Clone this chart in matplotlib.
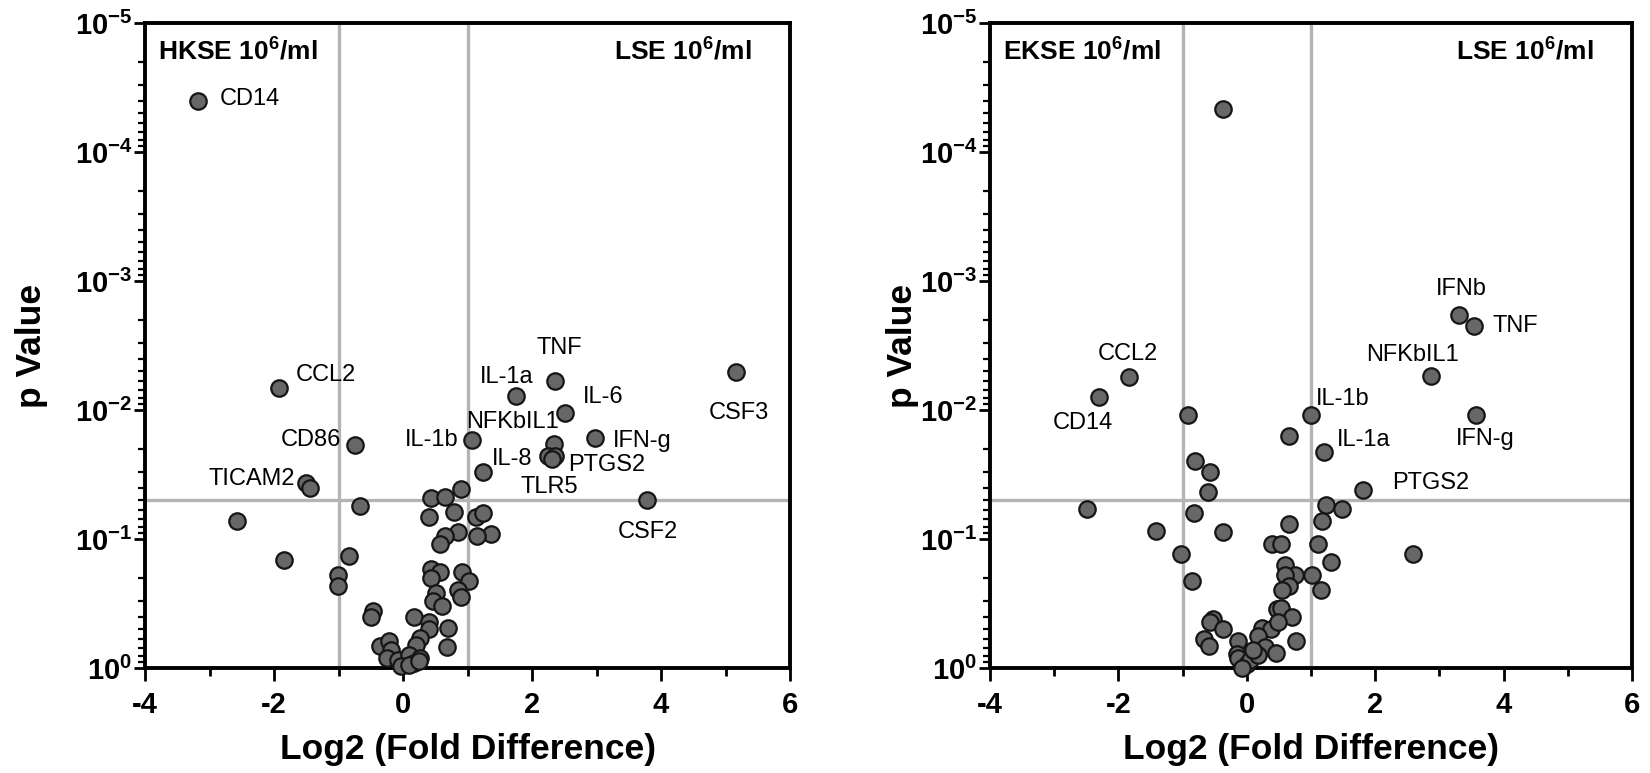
import numpy as np
import matplotlib
matplotlib.use("Agg")
import matplotlib.pyplot as plt
from matplotlib.ticker import FixedLocator, FuncFormatter, LogLocator, NullFormatter, MultipleLocator

plt.rcParams['font.family'] = ['Liberation Sans', 'DejaVu Sans']
plt.rcParams['mathtext.fontset'] = 'custom'
plt.rcParams['mathtext.rm'] = 'Liberation Sans'
plt.rcParams['mathtext.bf'] = 'Liberation Sans:bold'
plt.rcParams['axes.unicode_minus'] = False

# HKSE vs LSE (left panel)
hk_gene = ['CD14', 'CCL2', 'TNF', 'IL-1a', 'CSF3', 'IL-6', 'NFKbIL1', 'IL-1b', 'IFN-g',
           'CD86', 'IL-8', 'PTGS2', 'TLR5', 'TICAM2', '', 'CSF2']
hk_fold = [-3.18, -1.92, 2.35, 1.75, 5.17, 2.51, 2.34, 1.07, 2.97,
           -0.74, 2.25, 2.35, 2.31, -1.50, -1.45, 3.79]
hk_p = [4.0e-5, 6.8e-3, 6.0e-3, 7.8e-3, 5.1e-3, 1.05e-2, 1.84e-2, 1.70e-2, 1.66e-2,
        1.86e-2, 2.29e-2, 2.29e-2, 2.4e-2, 3.7e-2, 4.0e-2, 5.0e-2]
hk_rest_fold = [1.24, 0.90, 0.43, 0.65, -0.67, -2.58, 0.41, 0.79, 1.13, 1.24, 1.37, 1.14,
                0.85, 0.65, 0.58, -0.84, -1.85, -1.01, -1.01, 0.44, 0.58, 0.43, 0.92, 1.03,
                0.86, 0.90, 0.51, 0.47, 0.60, -0.46, -0.49, 0.17, 0.41, 0.41, 0.69, 0.27,
                0.20, 0.68, -0.35, -0.21, -0.18, -0.25, -0.08, 0.10, 0.27, 0.17, -0.03,
                0.10, 0.24]
hk_rest_p = [0.030, 0.041, 0.048, 0.047, 0.055, 0.072, 0.068, 0.062, 0.068, 0.063, 0.091,
             0.095, 0.089, 0.095, 0.11, 0.135, 0.146, 0.19, 0.23, 0.17, 0.18, 0.20, 0.18,
             0.21, 0.25, 0.28, 0.26, 0.30, 0.33, 0.36, 0.40, 0.40, 0.44, 0.50, 0.49, 0.59,
             0.66, 0.69, 0.68, 0.62, 0.72, 0.83, 0.86, 0.79, 0.83, 0.91, 0.97, 0.94, 0.89]

# EKSE vs LSE (right panel)
ek_gene = ['', 'IFNb', 'TNF', 'NFKbIL1', 'CCL2', 'CD14', 'IL-1b', 'IFN-g', 'IL-1a', 'PTGS2']
ek_fold = [-0.37, 3.31, 3.54, 2.87, -1.84, -2.30, 1.00, 3.57, 1.20, 1.81]
ek_p = [4.6e-5, 1.84e-3, 2.24e-3, 5.4e-3, 5.5e-3, 7.9e-3, 1.10e-2, 1.10e-2, 2.1e-2, 4.2e-2]
ek_rest_fold = [-0.91, 0.66, -0.80, -0.58, -0.60, -2.49, -0.83, 1.24, 1.49, 1.17, 0.66, -1.42,
                -0.37, 0.40, 0.54, 1.11, -1.03, 2.59, 1.31, 0.59, 0.75, 0.59, 1.02, -0.85,
                0.65, 0.55, 1.16, 0.47, 0.54, 0.71, -0.53, -0.58, -0.37, 0.23, 0.37, 0.48,
                -0.67, -0.59, -0.13, 0.76, 0.17, -0.16, -0.13, 0.01, 0.05, 0.28, 0.45, 0.17,
                -0.07, 0.10]
ek_rest_p = [0.011, 0.016, 0.025, 0.030, 0.043, 0.059, 0.063, 0.054, 0.059, 0.072, 0.076,
             0.087, 0.089, 0.11, 0.11, 0.11, 0.13, 0.13, 0.15, 0.16, 0.19, 0.19, 0.19, 0.21,
             0.23, 0.25, 0.25, 0.35, 0.34, 0.40, 0.42, 0.44, 0.50, 0.49, 0.50, 0.44, 0.60,
             0.68, 0.62, 0.62, 0.56, 0.78, 0.83, 0.93, 0.86, 0.69, 0.76, 0.79, 1.0, 0.72]

# label placement: (dx, dy) in points and horizontal alignment
hk_offsets = {
    'CD14': (16, 1, 'left'), 'CCL2': (12, 10, 'left'), 'TNF': (3.5, 24, 'center'),
    'IL-1a': (13, 14, 'right'), 'CSF3': (1.5, -29, 'center'), 'IL-6': (13, 11, 'left'),
    'NFKbIL1': (3.5, 16, 'right'), 'IL-1b': (-9.5, 0, 'right'), 'IFN-g': (13.5, -1.5, 'left'),
    'CD86': (-10, 3.5, 'right'), 'IL-8': (-11.5, -1.5, 'right'), 'PTGS2': (9.5, -6, 'left'),
    'TLR5': (-2, -20, 'center'), 'TICAM2': (-8, 3, 'right'), 'CSF2': (0, -23, 'center'),
}
ek_offsets = {
    'IFNb': (1.5, 19, 'center'), 'TNF': (13.5, 0, 'left'), 'NFKbIL1': (-13.5, 15, 'center'),
    'CCL2': (-0.5, 16.5, 'center'), 'CD14': (-12, -19, 'center'), 'IL-1b': (3.5, 12, 'left'),
    'IFN-g': (7, -17, 'center'), 'IL-1a': (9.5, 8, 'left'), 'PTGS2': (21, 5, 'left'),
}


def volcano(ax, fold, p, genes, rest_fold, rest_p, offsets, left_txt, right_txt):
    ax.axvline(-1, color='#b4b4b4', lw=2.4, zorder=1)
    ax.axvline(1, color='#b4b4b4', lw=2.4, zorder=1)
    ax.axhline(0.05, color='#b4b4b4', lw=2.4, zorder=1)

    ax.scatter(rest_fold + fold, rest_p + p, s=140, c='#676767',
               edgecolors='#151515', linewidths=1.6, zorder=3, clip_on=False)

    for g, x, y in zip(genes, fold, p):
        if g in offsets:
            dx, dy, ha = offsets[g]
            ax.annotate(g, (x, y), xytext=(dx, dy), textcoords='offset points',
                        ha=ha, va='center', fontsize=17, zorder=4)

    ax.set_yscale('log')
    ax.set_ylim(1, 1e-5)
    ax.set_xlim(-4, 6)
    ax.yaxis.set_major_locator(FixedLocator([1, 1e-1, 1e-2, 1e-3, 1e-4, 1e-5]))
    ax.yaxis.set_major_formatter(FuncFormatter(
        lambda v, pos: r'$\mathbf{10^{%d}}$' % round(np.log10(v))))
    ax.yaxis.set_minor_locator(LogLocator(subs=np.arange(2, 10), numticks=20))
    ax.yaxis.set_minor_formatter(NullFormatter())
    ax.xaxis.set_major_locator(MultipleLocator(2))
    ax.xaxis.set_minor_locator(MultipleLocator(1))

    for s in ax.spines.values():
        s.set_linewidth(2.8)
    ax.tick_params(axis='x', which='major', length=9.5, width=2, pad=7, labelsize=21)
    ax.tick_params(axis='x', which='minor', length=6, width=2)
    ax.tick_params(axis='y', which='major', length=8, width=2, pad=1, labelsize=21)
    ax.tick_params(axis='y', which='minor', length=5, width=1.6)
    for lab in ax.get_xticklabels():
        lab.set_fontweight('bold')

    ax.set_xlabel('Log2 (Fold Difference)', fontsize=25.5, fontweight='bold')
    ax.xaxis.set_label_coords(0.5, -0.10)
    ax.set_ylabel('p Value', fontsize=25.5, fontweight='bold')

    ax.text(0.02, 0.958, left_txt, transform=ax.transAxes, fontsize=19,
            fontweight='bold', ha='left', va='center')
    ax.text(0.94, 0.958, right_txt, transform=ax.transAxes, fontsize=19,
            fontweight='bold', ha='right', va='center')


fig = plt.figure(figsize=(16.5, 7.73), dpi=100)
ax1 = fig.add_axes([0.0879, 0.1358, 0.3909, 0.8344])
ax2 = fig.add_axes([0.6, 0.1358, 0.3891, 0.8344])

volcano(ax1, hk_fold, hk_p, hk_gene, hk_rest_fold, hk_rest_p, hk_offsets,
        r'HKSE 10$^{\mathbf{6}}$/ml', r'LSE 10$^{\mathbf{6}}$/ml')
volcano(ax2, ek_fold, ek_p, ek_gene, ek_rest_fold, ek_rest_p, ek_offsets,
        r'EKSE 10$^{\mathbf{6}}$/ml', r'LSE 10$^{\mathbf{6}}$/ml')
ax1.yaxis.set_label_coords(-0.15, 0.5)
ax2.yaxis.set_label_coords(-0.11, 0.5)

fig.savefig('out.png', dpi=100)
